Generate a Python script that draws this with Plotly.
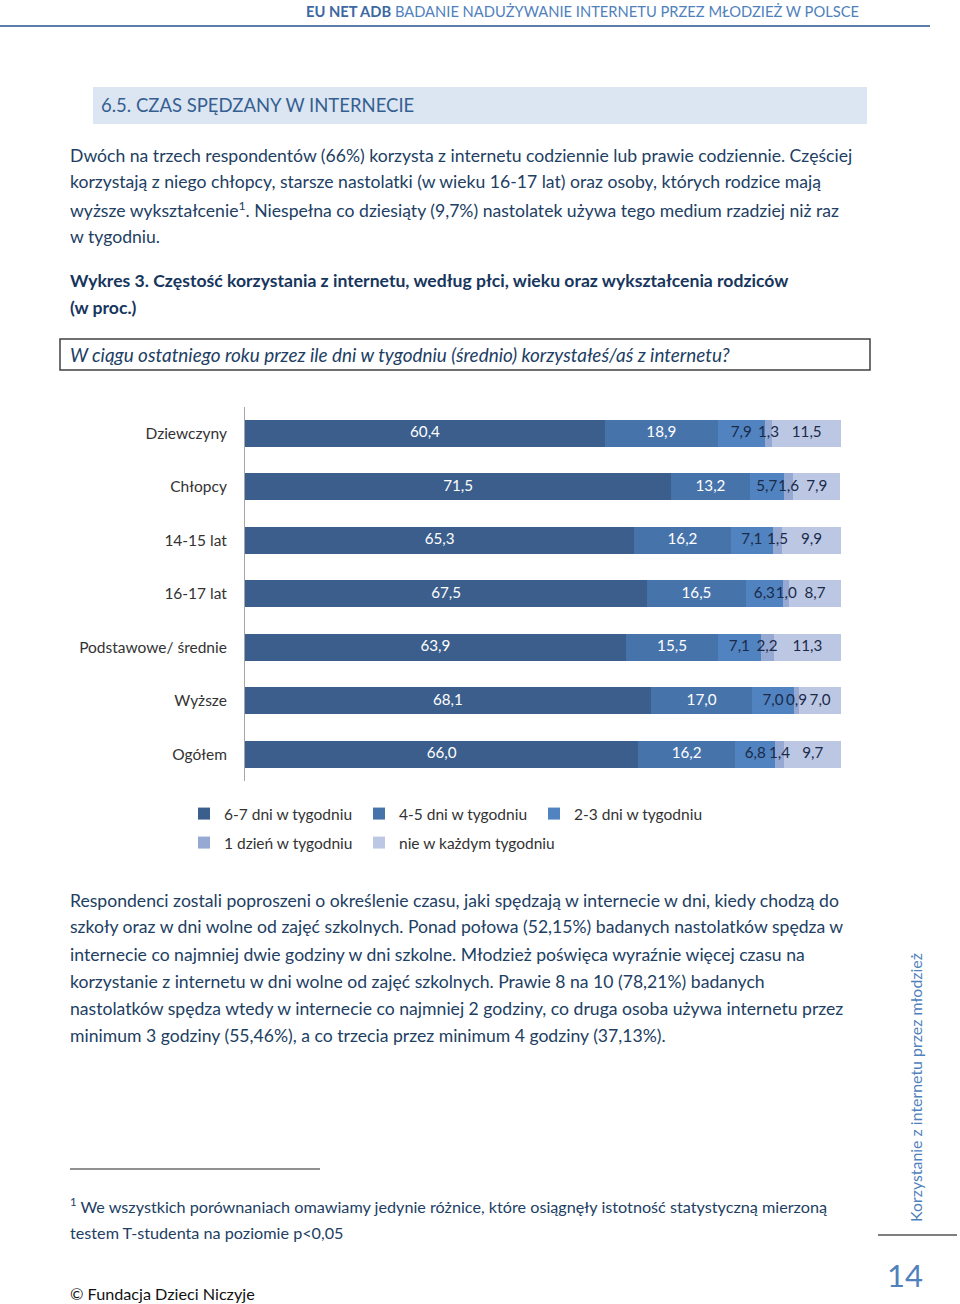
import plotly.graph_objects as go

# ---------------- data ----------------
categories = ["Dziewczyny", "Chłopcy", "14-15 lat", "16-17 lat", "Podstawowe/ średnie", "Wyższe", "Ogółem"]
series_names = ["6-7 dni w tygodniu", "4-5 dni w tygodniu", "2-3 dni w tygodniu",
                "1 dzień w tygodniu", "nie w każdym tygodniu"]
v_67 = [60.4, 71.5, 65.3, 67.5, 63.9, 68.1, 66.0]
v_45 = [18.9, 13.2, 16.2, 16.5, 15.5, 17.0, 16.2]
v_23 = [7.9, 5.7, 7.1, 6.3, 7.1, 7.0, 6.8]
v_1 = [1.3, 1.6, 1.5, 1.0, 2.2, 0.9, 1.4]
v_nie = [11.5, 7.9, 9.9, 8.7, 11.3, 7.0, 9.7]
series_values = [v_67, v_45, v_23, v_1, v_nie]

colors = ["#3B5E8D", "#4773AB", "#5083C0", "#95A9D3", "#BCC8E3"]
label_colors = ["white", "white", "#1B2A4A", "#1B2A4A", "#1B2A4A"]

W, H = 960, 1304
FONT = "Lato, 'Open Sans', sans-serif"
TXT = "#213E63"


def px(x):
    return x / W


def py(y):
    return 1 - y / H


# one legend box per entry: (left x, centre y) in page pixels
legend_ids = ["legend", "legend2", "legend3", "legend4", "legend5"]
legend_pos = [(184, 814), (359, 814), (534, 814), (184, 843), (359, 843)]

fig = go.Figure()
# stacked bars
for name, vals, col, lg in zip(series_names, series_values, colors, legend_ids):
    fig.add_trace(go.Bar(
        y=categories, x=vals, name=name, orientation="h",
        marker=dict(color=col, line=dict(width=0)),
        legend=lg, hoverinfo="skip",
    ))

# value labels drawn on top of all bars (centred in each segment)
cum = [0.0] * len(categories)
for name, vals, lc in zip(series_names, series_values, label_colors):
    centers = [c + v / 2 for c, v in zip(cum, vals)]
    cum = [c + v for c, v in zip(cum, vals)]
    fig.add_trace(go.Scatter(
        y=categories, x=centers, mode="text",
        text=[f"{v:.1f}".replace(".", ",") for v in vals],
        textposition="middle center",
        textfont=dict(color=lc, size=15.2, family=FONT),
        showlegend=False, hoverinfo="skip", cliponaxis=False,
    ))

layout_legends = {}
for lid, (lx, ly) in zip(legend_ids, legend_pos):
    layout_legends[lid] = dict(orientation="h", x=px(lx), y=py(ly), xanchor="left", yanchor="middle",
                               bgcolor="rgba(0,0,0,0)",
                               font=dict(size=15.5, color="#333333", family=FONT))

fig.update_layout(
    width=W, height=H, margin=dict(l=0, r=0, t=0, b=0),
    paper_bgcolor="white", plot_bgcolor="white",
    barmode="stack", bargap=0.5,
    font=dict(family=FONT, color=TXT),
    xaxis=dict(domain=[px(245), px(841)], range=[0, 100], visible=False, fixedrange=True),
    yaxis=dict(domain=[py(781), py(406.5)], categoryorder="array", categoryarray=categories,
               autorange="reversed", showline=True, linecolor="#A6A6A6", linewidth=1,
               showgrid=False, zeroline=False, ticks="", ticklabelstandoff=14,
               tickfont=dict(size=15.5, color="#333333", family=FONT), fixedrange=True),
    **layout_legends,
)

ann = []


def text(x, y, s, size=17.6, color=TXT, xanchor="left", **kw):
    dx = -2 if xanchor == "left" else 2
    ann.append(dict(xref="paper", yref="paper", x=px(x + dx), y=py(y), text=s, showarrow=False,
                    xanchor=xanchor, yanchor="middle", align="left",
                    font=dict(size=size, color=color, family=FONT), **kw))


# header
text(859, 11, "<span style='color:#3D68A3'><b>EU NET ADB</b></span> BADANIE NADUŻYWANIE INTERNETU PRZEZ MŁODZIEŻ W POLSCE",
     size=14.7, color="#4F81BD", xanchor="right")
# section heading
text(101, 105, "6.5. CZAS SPĘDZANY W INTERNECIE", size=18.5, color="#365F91")

para1 = [
    "Dwóch na trzech respondentów (66%) korzysta z internetu codziennie lub prawie codziennie. Częściej",
    "korzystają z niego chłopcy, starsze nastolatki (w wieku 16-17 lat) oraz osoby, których rodzice mają",
    "wyższe wykształcenie<sup>1</sup>. Niespełna co dziesiąty (9,7%) nastolatek używa tego medium rzadziej niż raz",
    "w tygodniu.",
]
for i, line in enumerate(para1):
    text(70, 155 + 27 * i, line)

text(70, 280, "<b>Wykres 3. Częstość korzystania z internetu, według płci, wieku oraz wykształcenia rodziców</b>",
     color="#17365D")
text(70, 307, "<b>(w proc.)</b>", color="#17365D")
text(70, 354, "<i>W ciągu ostatniego roku przez ile dni w tygodniu (średnio) korzystałeś/aś z internetu?</i>",
     size=18.9)

para2 = [
    "Respondenci zostali poproszeni o określenie czasu, jaki spędzają w internecie w dni, kiedy chodzą do",
    "szkoły oraz w dni wolne od zajęć szkolnych. Ponad połowa (52,15%) badanych nastolatków spędza w",
    "internecie co najmniej dwie godziny w dni szkolne. Młodzież poświęca wyraźnie więcej czasu na",
    "korzystanie z internetu w dni wolne od zajęć szkolnych. Prawie 8 na 10 (78,21%) badanych",
    "nastolatków spędza wtedy w internecie co najmniej 2 godziny, co druga osoba używa internetu przez",
    "minimum 3 godziny (55,46%), a co trzecia przez minimum 4 godziny (37,13%).",
]
for i, line in enumerate(para2):
    text(70, 900 + 27 * i, line)

text(70, 1205, "<sup>1</sup> We wszystkich porównaniach omawiamy jedynie różnice, które osiągnęły istotność statystyczną mierzoną",
     size=16.2)
text(70, 1232, "testem T-studenta na poziomie p&lt;0,05", size=16.2)
text(70, 1293, "© Fundacja Dzieci Niczyje", size=16.2, color="#111111")

ann.append(dict(xref="paper", yref="paper", x=px(915), y=py(1088), text="Korzystanie z internetu przez młodzież",
                showarrow=False, textangle=-90, xanchor="center", yanchor="middle",
                font=dict(size=15.9, color="#4F81BD", family=FONT)))
ann.append(dict(xref="paper", yref="paper", x=px(905), y=py(1275), text="14", showarrow=False,
                xanchor="center", yanchor="middle", font=dict(size=31, color="#4F81BD", family=FONT)))
fig.update_layout(annotations=ann)

shapes = [
    dict(type="line", xref="paper", yref="paper", x0=px(0), x1=px(930), y0=py(26), y1=py(26),
         line=dict(color="#5B7FAA", width=2)),
    dict(type="rect", xref="paper", yref="paper", x0=px(93), x1=px(867), y0=py(124), y1=py(87),
         fillcolor="#DCE6F2", line=dict(width=0), layer="below"),
    dict(type="rect", xref="paper", yref="paper", x0=px(60), x1=px(870), y0=py(370), y1=py(339),
         line=dict(color="#404040", width=1.5)),
    dict(type="line", xref="paper", yref="paper", x0=px(70), x1=px(320), y0=py(1169), y1=py(1169),
         line=dict(color="#222222", width=1)),
    dict(type="line", xref="paper", yref="paper", x0=px(878), x1=px(957), y0=py(1235), y1=py(1235),
         line=dict(color="#7F7F7F", width=2)),
]
fig.update_layout(shapes=shapes)

fig.write_html("out.html", config={"displayModeBar": False},
               post_script="document.body.style.margin='0';document.body.style.padding='0';")
